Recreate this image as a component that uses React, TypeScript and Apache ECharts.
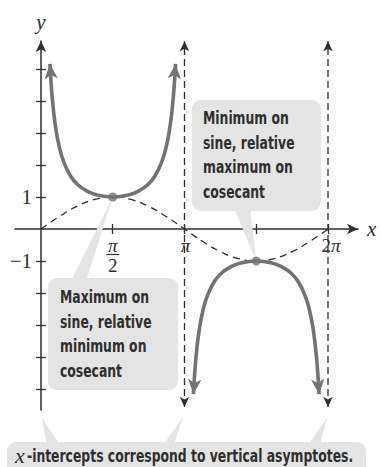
import React, { useEffect, useRef } from 'react';
import * as echarts from 'echarts';

// Axis ticks and labels (x in radians)
const xTickValues = [1.5708, 3.1416, 4.7124, 6.2832];
const xLabelValues = [1.5708, 3.1416, 6.2832];
const xLabelNumerators = ['π', 'π', '2π'];
const xLabelDenominators = ['2', '', ''];
const yTickValues = [-5, -4, -3, -2, -1, 1, 2, 3, 4, 5];
const yLabelValues = [1, -1];
const yLabelTexts = ['1', '−1'];

// y = sin x over one period
const sineX = [0, 0.3927, 0.7854, 1.1781, 1.5708, 1.9635, 2.3562, 2.7489, 3.1416, 3.5343, 3.927, 4.3197, 4.7124, 5.1051, 5.4978, 5.8905, 6.2832];
const sineY = [0, 0.3827, 0.7071, 0.9239, 1, 0.9239, 0.7071, 0.3827, 0, -0.3827, -0.7071, -0.9239, -1, -0.9239, -0.7071, -0.3827, 0];

// y = csc x, branch on (0, π)
const cscUpperX = [0.195, 0.22, 0.26, 0.32, 0.4, 0.5, 0.65, 0.8, 1.0, 1.25, 1.5708, 1.8916, 2.1416, 2.3416, 2.4916, 2.6416, 2.7416, 2.8216, 2.8816, 2.9216, 2.9466];
const cscUpperY = [5.16, 4.58, 3.89, 3.18, 2.57, 2.09, 1.65, 1.39, 1.19, 1.054, 1, 1.054, 1.19, 1.39, 1.65, 2.09, 2.57, 3.18, 3.89, 4.58, 5.16];

// y = csc x, branch on (π, 2π)
const cscLowerX = [3.3366, 3.3616, 3.4016, 3.4616, 3.5416, 3.6416, 3.7916, 3.9416, 4.1416, 4.3916, 4.7124, 5.0332, 5.2832, 5.4832, 5.6332, 5.7832, 5.8832, 5.9632, 6.0232, 6.0632, 6.0882];
const cscLowerY = [-5.16, -4.58, -3.89, -3.18, -2.57, -2.09, -1.65, -1.39, -1.19, -1.054, -1, -1.054, -1.19, -1.39, -1.65, -2.09, -2.57, -3.18, -3.89, -4.58, -5.16];

// Vertical asymptotes x = π and x = 2π
const asymptoteX = [3.1416, 6.2832];
const asymptoteSpan = [-5.56, 5.87];

// Shared extrema of sine and cosecant
const extremaX = [1.5708, 4.7124];
const extremaY = [1, -1];

const X_MIN = -0.569;
const X_MAX = 6.94;
const Y_MIN = -5.656;
const Y_MAX = 5.875;

const GRID = { left: 15, right: 23, top: 41, bottom: 57 };
const W = 381;
const H = 467;

const INK = '#2e2e2e';
const CURVE = '#737373';
const BOX = '#e4e4e4';
const SERIF = "'Liberation Serif', 'DejaVu Serif', serif";
const CONDENSED = "'DejaVu Sans Condensed', 'DejaVu Sans', sans-serif";
const SQUEEZE = 0.765;

const pick = (values: number[], texts: string[], v: number) => {
  const i = values.findIndex((t) => Math.abs(t - v) < 1e-3);
  return i >= 0 ? texts[i] : '';
};

const withEndArrows = (xs: number[], ys: number[], startRot: number, endRot: number) =>
  xs.map((x, i) => {
    const value = [x, ys[i]];
    if (i === 0) return { value, symbol: 'arrow', symbolSize: [10, 15], symbolRotate: startRot };
    if (i === xs.length - 1) return { value, symbol: 'arrow', symbolSize: [10, 15], symbolRotate: endRot };
    return { value };
  });

export default function App() {
  const ref = useRef<HTMLDivElement>(null);

  useEffect(() => {
    if (!ref.current) return;
    const chart = echarts.init(ref.current, undefined, { renderer: 'svg' });

    // distance from the grid edges to the zero lines, used to park the helper axes on them
    const gridW = W - GRID.left - GRID.right;
    const gridH = H - GRID.top - GRID.bottom;
    const zeroFromBottom = ((0 - Y_MIN) / (Y_MAX - Y_MIN)) * gridH;
    const zeroFromLeft = ((0 - X_MIN) / (X_MAX - X_MIN)) * gridW;

    const tickStyle = { color: INK, width: 1.3 };
    const mainAxisLine = {
      onZero: true,
      onZeroAxisIndex: 0,
      symbol: ['none', 'arrow'],
      symbolSize: [8, 11],
      lineStyle: { color: INK, width: 1.5 },
    };

    const option: any = {
      animation: false,
      backgroundColor: '#ffffff',
      grid: { ...GRID, containLabel: false, outerBoundsMode: 'none' },
      xAxis: [
        {
          type: 'value',
          position: 'bottom',
          min: X_MIN,
          max: X_MAX,
          axisLine: mainAxisLine,
          axisTick: { show: true, customValues: xTickValues, length: 5, lineStyle: tickStyle },
          axisLabel: { show: false },
          splitLine: { show: false },
          name: 'x',
          nameLocation: 'end',
          nameGap: 9,
          nameTextStyle: { fontFamily: SERIF, fontStyle: 'italic', fontSize: 21, color: INK },
        },
        {
          type: 'value',
          position: 'bottom',
          offset: -zeroFromBottom,
          min: X_MIN,
          max: X_MAX,
          axisLine: { show: false, onZero: false },
          axisTick: { show: true, inside: true, customValues: xTickValues, length: 5, lineStyle: tickStyle },
          axisLabel: { show: false },
          splitLine: { show: false },
        },
      ],
      yAxis: [
        {
          type: 'value',
          position: 'left',
          min: Y_MIN,
          max: Y_MAX,
          axisLine: mainAxisLine,
          axisTick: { show: true, customValues: yTickValues, length: 5, lineStyle: tickStyle },
          axisLabel: { show: false },
          splitLine: { show: false },
          name: 'y',
          nameLocation: 'end',
          nameGap: 9,
          nameTextStyle: { fontFamily: SERIF, fontStyle: 'italic', fontSize: 21, color: INK, align: 'center' },
        },
        {
          type: 'value',
          position: 'left',
          offset: -zeroFromLeft,
          min: Y_MIN,
          max: Y_MAX,
          axisLine: { show: false, onZero: false },
          axisTick: { show: true, inside: true, customValues: yTickValues, length: 5, lineStyle: tickStyle },
          axisLabel: {
            customValues: yLabelValues,
            formatter: (v: number) => pick(yLabelValues, yLabelTexts, v),
            margin: 9,
            fontFamily: SERIF,
            fontSize: 21,
            color: INK,
          },
          splitLine: { show: false },
        },
      ],
      series: [
        {
          name: 'sin x',
          type: 'line',
          smooth: true,
          symbol: 'none',
          clip: false,
          z: 2,
          data: sineX.map((x, i) => [x, sineY[i]]),
          lineStyle: { color: INK, width: 1.3, type: [7, 5] },
        },
        ...asymptoteX.map((ax) => ({
          name: 'asymptote',
          type: 'line',
          symbol: 'none',
          showSymbol: true,
          clip: false,
          z: 2,
          itemStyle: { color: INK },
          lineStyle: { color: INK, width: 1.3, type: [7, 4] },
          data: [
            { value: [ax, asymptoteSpan[0]], symbol: 'arrow', symbolSize: [7, 10], symbolRotate: 180 },
            { value: [ax, asymptoteSpan[1]], symbol: 'arrow', symbolSize: [7, 10], symbolRotate: 0 },
          ],
        })),
        {
          name: 'csc x',
          type: 'line',
          smooth: true,
          symbol: 'none',
          showSymbol: true,
          clip: false,
          z: 3,
          itemStyle: { color: CURVE },
          lineStyle: { color: CURVE, width: 3.6 },
          data: withEndArrows(cscUpperX, cscUpperY, 5, -5),
        },
        {
          name: 'csc x',
          type: 'line',
          smooth: true,
          symbol: 'none',
          showSymbol: true,
          clip: false,
          z: 3,
          itemStyle: { color: CURVE },
          lineStyle: { color: CURVE, width: 3.6 },
          data: withEndArrows(cscLowerX, cscLowerY, 175, 185),
        },
        {
          name: 'extrema',
          type: 'scatter',
          symbol: 'circle',
          symbolSize: 9,
          z: 4,
          itemStyle: { color: CURVE },
          data: extremaX.map((x, i) => [x, extremaY[i]]),
        },
      ],
    };

    chart.setOption(option);

    const px = (x: number, y: number) =>
      chart.convertToPixel({ xAxisIndex: 0, yAxisIndex: 0 }, [x, y]) as number[];

    const maxPt = px(extremaX[0], extremaY[0]);
    const minPt = px(extremaX[1], extremaY[1]);
    const yAxisEnd = px(0, -5.9);
    const asym1End = px(asymptoteX[0], -5.9);
    const asym2End = px(asymptoteX[1], -5.9);

    // x tick labels in π notation, placed under their ticks via the x scale
    const xLabelGraphics: any[] = [];
    xLabelValues.forEach((v, i) => {
      const [lx, zeroY] = px(v, 0);
      const den = xLabelDenominators[i];
      const num = xLabelNumerators[i];
      const numText = num.startsWith('2') ? '{r|2}{i|π}' : '{i|π}';
      xLabelGraphics.push({
        type: 'text', z: 5, x: lx + (den ? 0 : num.length > 1 ? 3 : 1), y: zeroY + 16.5,
        style: {
          text: numText, align: 'center', verticalAlign: 'middle',
          rich: {
            i: { fontFamily: SERIF, fontStyle: 'italic', fontSize: 19, fill: INK },
            r: { fontFamily: SERIF, fontSize: 19, fill: INK },
          },
        },
      });
      if (den) {
        xLabelGraphics.push({
          type: 'line', z: 5,
          shape: { x1: lx - 6.5, y1: zeroY + 25.5, x2: lx + 6.5, y2: zeroY + 25.5 },
          style: { stroke: INK, lineWidth: 1.2 },
        });
        xLabelGraphics.push({
          type: 'text', z: 5, x: lx, y: zeroY + 36,
          style: { text: den, fontFamily: SERIF, fontSize: 19, fill: INK, align: 'center', verticalAlign: 'middle' },
        });
      }
    });

    const textStyle = {
      fontFamily: CONDENSED,
      fontWeight: 'bold',
      fontSize: 18,
      fill: INK,
      lineHeight: 24.5,
      verticalAlign: 'top',
    };

    chart.setOption({
      graphic: [
        ...xLabelGraphics,
        // callout: minimum on sine
        { type: 'polygon', z: 1, shape: { points: [[234, 208], [250, 208], [minPt[0], minPt[1]]] }, style: { fill: BOX } },
        { type: 'rect', z: 1, shape: { x: 192, y: 100, width: 129, height: 111, r: 9 }, style: { fill: BOX } },
        {
          type: 'text', z: 1, x: 203, y: 106, scaleX: SQUEEZE,
          style: { ...textStyle, text: 'Minimum on\nsine, relative\nmaximum on\ncosecant' },
        },
        // callout: maximum on sine
        { type: 'polygon', z: 1, shape: { points: [[71, 281], [86, 281], [maxPt[0], maxPt[1]]] }, style: { fill: BOX } },
        { type: 'rect', z: 1, shape: { x: 48, y: 278, width: 130, height: 112, r: 9 }, style: { fill: BOX } },
        {
          type: 'text', z: 1, x: 60, y: 285, scaleX: SQUEEZE,
          style: { ...textStyle, text: 'Maximum on\nsine, relative\nminimum on\ncosecant' },
        },
        // callout: x-intercepts
        { type: 'polygon', z: 1, shape: { points: [[47, 445], [60, 445], [yAxisEnd[0] + 1, yAxisEnd[1]]] }, style: { fill: BOX } },
        { type: 'polygon', z: 1, shape: { points: [[163, 445], [174, 445], [asym1End[0] - 2, asym1End[1]]] }, style: { fill: BOX } },
        { type: 'polygon', z: 1, shape: { points: [[308, 445], [320, 445], [asym2End[0] - 1, asym2End[1]]] }, style: { fill: BOX } },
        { type: 'rect', z: 1, shape: { x: 7, y: 442, width: 359, height: 40, r: 9 }, style: { fill: BOX } },
        {
          type: 'text', z: 1, x: 15, y: 455,
          style: { text: 'x', fontFamily: SERIF, fontStyle: 'italic', fontSize: 22, fill: INK, verticalAlign: 'middle' },
        },
        {
          type: 'text', z: 1, x: 27, y: 456, scaleX: SQUEEZE,
          style: {
            text: '-intercepts correspond to vertical asymptotes.',
            fontFamily: CONDENSED, fontWeight: 'bold', fontSize: 18, fill: INK, verticalAlign: 'middle',
          },
        },
      ],
    });

    return () => chart.dispose();
  }, []);

  return (
    <div
      ref={ref}
      style={{ position: 'absolute', left: 0, top: 0, width: W, height: H, background: '#fff' }}
    />
  );
}
